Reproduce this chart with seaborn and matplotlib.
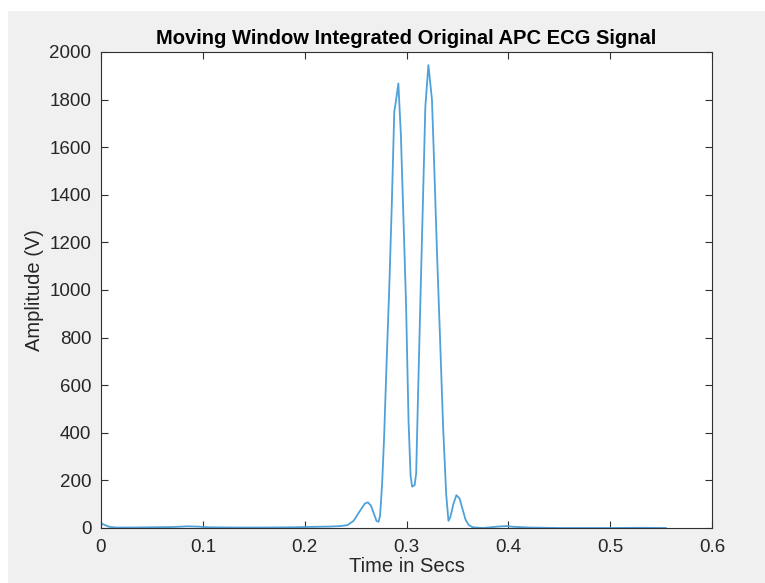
import matplotlib
matplotlib.use("Agg")
import matplotlib.pyplot as plt
import matplotlib.patches as mpatches
import seaborn as sns
import pandas as pd

# Data
time_s = [0.000, 0.003, 0.008, 0.015, 0.030, 0.050, 0.070, 0.085, 0.095, 0.105,
          0.130, 0.160, 0.190, 0.210, 0.225, 0.235, 0.242, 0.248, 0.254, 0.259,
          0.262, 0.265, 0.268, 0.2705, 0.2725, 0.274, 0.276, 0.278, 0.2805, 0.283,
          0.2855, 0.288, 0.2895, 0.292, 0.2945, 0.297, 0.2995, 0.302, 0.304, 0.3055,
          0.308, 0.3095, 0.311, 0.3135, 0.316, 0.3185, 0.3215, 0.325, 0.327, 0.330,
          0.333, 0.336, 0.339, 0.3412, 0.343, 0.346, 0.349, 0.352, 0.355, 0.358,
          0.361, 0.365, 0.375, 0.390, 0.398, 0.405, 0.420, 0.450, 0.500, 0.530, 0.555]
amplitude = [20, 14, 5, 2, 2, 3, 4, 7, 6, 3,
             2, 2, 3, 5, 6, 8, 12, 30, 70, 102,
             108, 95, 60, 30, 26, 50, 180, 380, 700, 1000,
             1350, 1750, 1790, 1868, 1650, 1300, 950, 450, 220, 174,
             180, 230, 500, 930, 1350, 1770, 1945, 1800, 1550, 1150,
             790, 420, 140, 30, 45, 100, 138, 125, 80, 35,
             13, 3, 0, 6, 8, 5, 2, 0, 0, 1, 0]
x_ticks = [0, 0.1, 0.2, 0.3, 0.4, 0.5, 0.6]
x_tick_labels = ["0", "0.1", "0.2", "0.3", "0.4", "0.5", "0.6"]
y_ticks = [0, 200, 400, 600, 800, 1000, 1200, 1400, 1600, 1800, 2000]

df = pd.DataFrame({"Time": time_s, "Amplitude": amplitude})

sns.set_style("white")
plt.rcParams["font.family"] = ["Liberation Sans", "DejaVu Sans"]

GRAY_BG = "#f0f0f0"
TXT = "#262626"

fig = plt.figure(figsize=(7.65, 5.83), dpi=100, facecolor=GRAY_BG)
# white strip (screenshot margin) on top and left
fig.patches.append(mpatches.Rectangle((0, 1 - 11 / 583), 1, 11 / 583, transform=fig.transFigure,
                                      facecolor="white", edgecolor="none", zorder=-10))
fig.patches.append(mpatches.Rectangle((0, 0), 8 / 765, 1, transform=fig.transFigure,
                                      facecolor="white", edgecolor="none", zorder=-10))

ax = fig.add_axes([101 / 765, 1 - 528 / 583, (712 - 101) / 765, (528 - 52) / 583])
ax.set_facecolor("white")

sns.lineplot(data=df, x="Time", y="Amplitude", ax=ax, color="#4fa1da", linewidth=1.3,
             sort=False, estimator=None)

ax.set_xlim(0, 0.6)
ax.set_ylim(0, 2000)
ax.set_xticks(x_ticks)
ax.set_xticklabels(x_tick_labels)
ax.set_yticks(y_ticks)

for s in ax.spines.values():
    s.set_visible(True)
    s.set_color("#303030")
    s.set_linewidth(0.8)

ax.tick_params(axis="both", which="both", direction="in", length=5, width=0.8,
               colors="#303030", labelcolor=TXT, labelsize=13.5,
               top=True, right=True, bottom=True, left=True)
ax.tick_params(axis="x", pad=8)
ax.tick_params(axis="y", pad=7)

ax.set_title("Moving Window Integrated Original APC ECG Signal", fontsize=14.5,
             fontweight="bold", color="#000000", pad=6)
ax.set_xlabel("Time in Secs", fontsize=14.5, color=TXT, labelpad=1)
ax.set_ylabel("Amplitude (V)", fontsize=14.5, color=TXT, labelpad=4)

fig.savefig("out.png", dpi=100, facecolor=fig.get_facecolor())
